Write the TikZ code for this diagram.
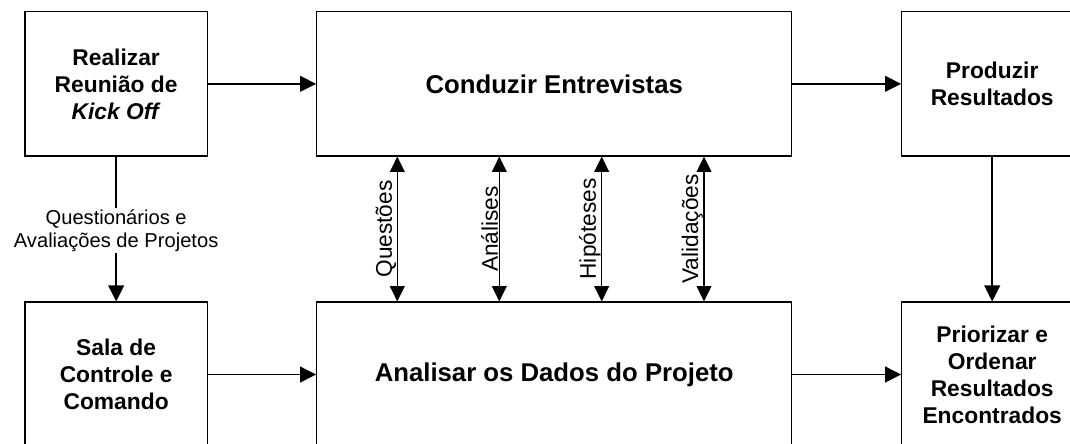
\documentclass[tikz,border=0pt]{standalone}
\usepackage{fontspec}
\setmainfont{Liberation Sans}
\usetikzlibrary{arrows.meta}
\begin{document}
\begin{tikzpicture}[x=0.75pt,y=-0.75pt,
  box/.style={draw=black, line width=0.8pt, inner sep=0pt, align=center},
  smallbox/.style={box, minimum width=136.7pt, font=\fontsize{17.1}{20.25}\selectfont\bfseries},
  bigbox/.style={box, minimum width=356.25pt, font=\fontsize{19.3}{23}\selectfont\bfseries},
  toprow/.style={minimum height=108.2pt},
  botrow/.style={minimum height=108.75pt},
  conn/.style={line width=1.1pt, -{Triangle[length=12pt,width=11.8pt]}},
  dconn/.style={line width=1.1pt, {Triangle[length=11.5pt,width=11pt]}-{Triangle[length=11.5pt,width=11pt]}},
  lbl/.style={font=\fontsize{15.1}{17}\selectfont, align=center, fill=white, inner sep=1pt},
  vlbl/.style={font=\fontsize{17}{20}\selectfont, rotate=90, anchor=south, inner sep=0.3pt}]
\useasboundingbox (0,0) rectangle (1070,443);
\clip (0,0) rectangle (1070,443);
\fill[white] (0,0) rectangle (1070,443);

\node[smallbox, toprow] (A) at (116.15,83.85) {Realizar\\Reunião de\\\textit{Kick Off}};
\node[bigbox, toprow] (B) at (554.2,83.85) {Conduzir Entrevistas};
\node[smallbox, toprow, minimum width=135.75pt] (C) at (992.2,83.85) {Produzir\\Resultados};
\node[smallbox, botrow] (D) at (116.15,374.5) {Sala de\\Controle e\\Comando};
\node[bigbox, botrow] (E) at (554.2,374.5) {Analisar os Dados do Projeto};
\node[smallbox, botrow, minimum width=135.75pt] (F) at (992.2,374.5) {Priorizar e\\Ordenar\\Resultados\\Encontrados};

\draw[conn] (A) -- (B);
\draw[conn] (B) -- (C);
\draw[conn] (D) -- (E);
\draw[conn] (E) -- (F);
\draw[conn] (C) -- (F);
\draw[conn] (A) -- (D) node[lbl, midway, yshift=-1.1pt] {Questionários e\\Avaliações de Projetos};

\coordinate (x1) at (397.3,0);
\coordinate (x2) at (499.3,0);
\coordinate (x3) at (601.7,0);
\coordinate (x4) at (704,0);
\draw[dconn] (B.south -| x1) -- (E.north -| x1) node[vlbl, midway] {Questões};
\draw[dconn] (B.south -| x2) -- (E.north -| x2) node[vlbl, midway] {Análises};
\draw[dconn] (B.south -| x3) -- (E.north -| x3) node[vlbl, midway] {Hipóteses};
\draw[dconn] (B.south -| x4) -- (E.north -| x4) node[vlbl, midway] {Validações};
\end{tikzpicture}
\end{document}
